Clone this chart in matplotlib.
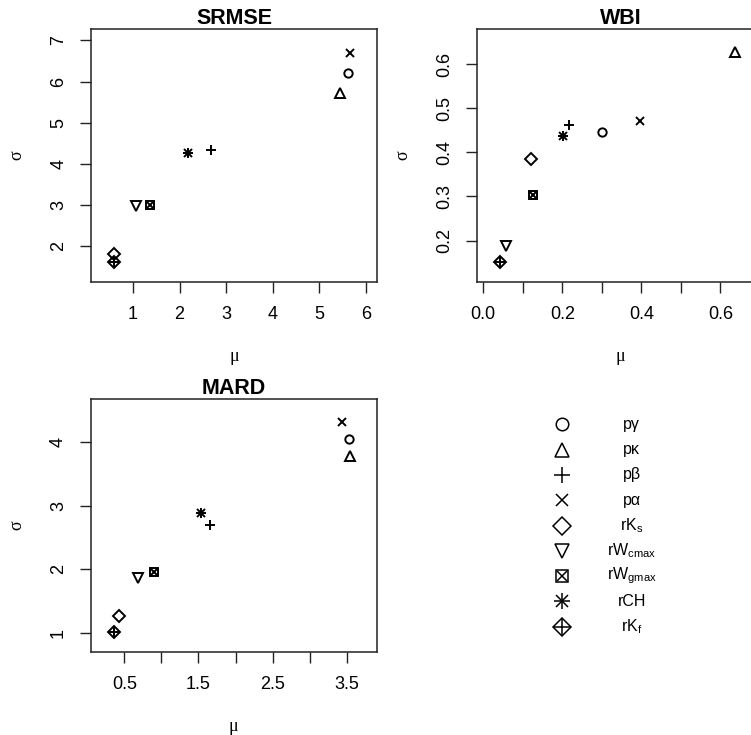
import matplotlib
matplotlib.use("Agg")
import matplotlib.pyplot as plt

plt.rcParams['font.family'] = ['Liberation Sans', 'DejaVu Sans']

# series names (legend order)
names = ["pγ", "pκ", "pβ", "pα", r"rK$_\mathregular{s}$", r"rW$_\mathregular{cmax}$",
         r"rW$_\mathregular{gmax}$", "rCH", r"rK$_\mathregular{f}$"]

# mu / sigma per measure, same order as names
srmse_mu = [5.61, 5.44, 2.67, 5.66, 0.60, 1.06, 1.37, 2.19, 0.60]
srmse_sd = [6.21, 5.72, 4.33, 6.70, 1.81, 2.97, 3.00, 4.26, 1.61]

wbi_mu = [0.300, 0.638, 0.217, 0.397, 0.122, 0.057, 0.127, 0.201, 0.042]
wbi_sd = [0.446, 0.627, 0.462, 0.472, 0.384, 0.188, 0.303, 0.437, 0.152]

mard_mu = [3.53, 3.54, 1.65, 3.44, 0.43, 0.685, 0.90, 1.53, 0.365]
mard_sd = [4.04, 3.78, 2.69, 4.31, 1.27, 1.87, 1.96, 2.88, 1.02]

# R pch-like markers, built from layers of matplotlib markers
layers = [
    [('o', 1.0)],
    [('^', 1.1)],
    [('+', 1.3)],
    [('x', 1.0)],
    [('D', 1.0)],
    [('v', 1.1)],
    [('s', 0.9), ('x', 0.75)],
    [('+', 1.3), ('x', 1.0)],
    [('D', 1.0), ('+', 1.25)],
]


def draw_point(ax, x, y, k, size, lw):
    for m, f in layers[k]:
        ax.plot([x], [y], linestyle='none', marker=m, markersize=size * f,
                markerfacecolor='none', markeredgecolor='black',
                markeredgewidth=lw, color='black', clip_on=False)


def panel(rect, title, mu, sd, xlim, ylim, xticks, xlabels, yticks, ylabels):
    ax = fig.add_axes(rect)
    for k in range(len(mu)):
        draw_point(ax, mu[k], sd[k], k, 6.0, 1.4)
    ax.set_xlim(*xlim)
    ax.set_ylim(*ylim)
    ax.set_xticks(xticks)
    ax.set_xticklabels(xlabels, fontsize=13)
    ax.set_yticks(yticks)
    ax.set_yticklabels(ylabels, fontsize=13, rotation=90, va='center')
    ax.tick_params(direction='out', length=8, width=1.0, pad=9, color='#222222')
    for s in ax.spines.values():
        s.set_linewidth(1.1)
        s.set_color('#222222')
    ax.set_title(title, fontsize=15.5, fontweight='bold', pad=4)
    ax.set_xlabel('μ', fontsize=13, family='Liberation Serif', labelpad=18)
    ax.set_ylabel('σ', fontsize=13, family='Liberation Serif', labelpad=18)
    return ax


fig = plt.figure(figsize=(7.51, 7.35), dpi=100)

panel([0.1212, 0.6163, 0.381, 0.344], 'SRMSE', srmse_mu, srmse_sd,
      (0.10, 6.24), (1.135, 7.27),
      [1, 2, 3, 4, 5, 6], ['1', '2', '3', '4', '5', '6'],
      [2, 3, 4, 5, 6, 7], ['2', '3', '4', '5', '6', '7'])

panel([0.6356, 0.6163, 0.381, 0.344], 'WBI', wbi_mu, wbi_sd,
      (-0.015, 0.709), (0.106, 0.679),
      [0.0, 0.1, 0.2, 0.3, 0.4, 0.5, 0.6], ['0.0', '', '0.2', '', '0.4', '', '0.6'],
      [0.2, 0.3, 0.4, 0.5, 0.6], ['0.2', '0.3', '0.4', '0.5', '0.6'])

panel([0.1208, 0.1129, 0.381, 0.344], 'MARD', mard_mu, mard_sd,
      (0.047, 3.905), (0.70, 4.67),
      [0.5, 1.0, 1.5, 2.0, 2.5, 3.0, 3.5], ['0.5', '', '1.5', '', '2.5', '', '3.5'],
      [1, 2, 3, 4], ['1', '2', '3', '4'])

# legend drawn in its own blank axes
lg = fig.add_axes([0.748, 0.13, 0.14, 0.31])
lg.set_xlim(0, 1)
lg.set_ylim(len(names) - 0.5, -0.5)
lg.axis('off')
for k, nm in enumerate(names):
    draw_point(lg, 0.0, k, k, 9.0, 1.1)
    lg.text(0.665, k, nm, fontsize=11.5, ha='center', va='center')

fig.savefig('out.png', dpi=100)
